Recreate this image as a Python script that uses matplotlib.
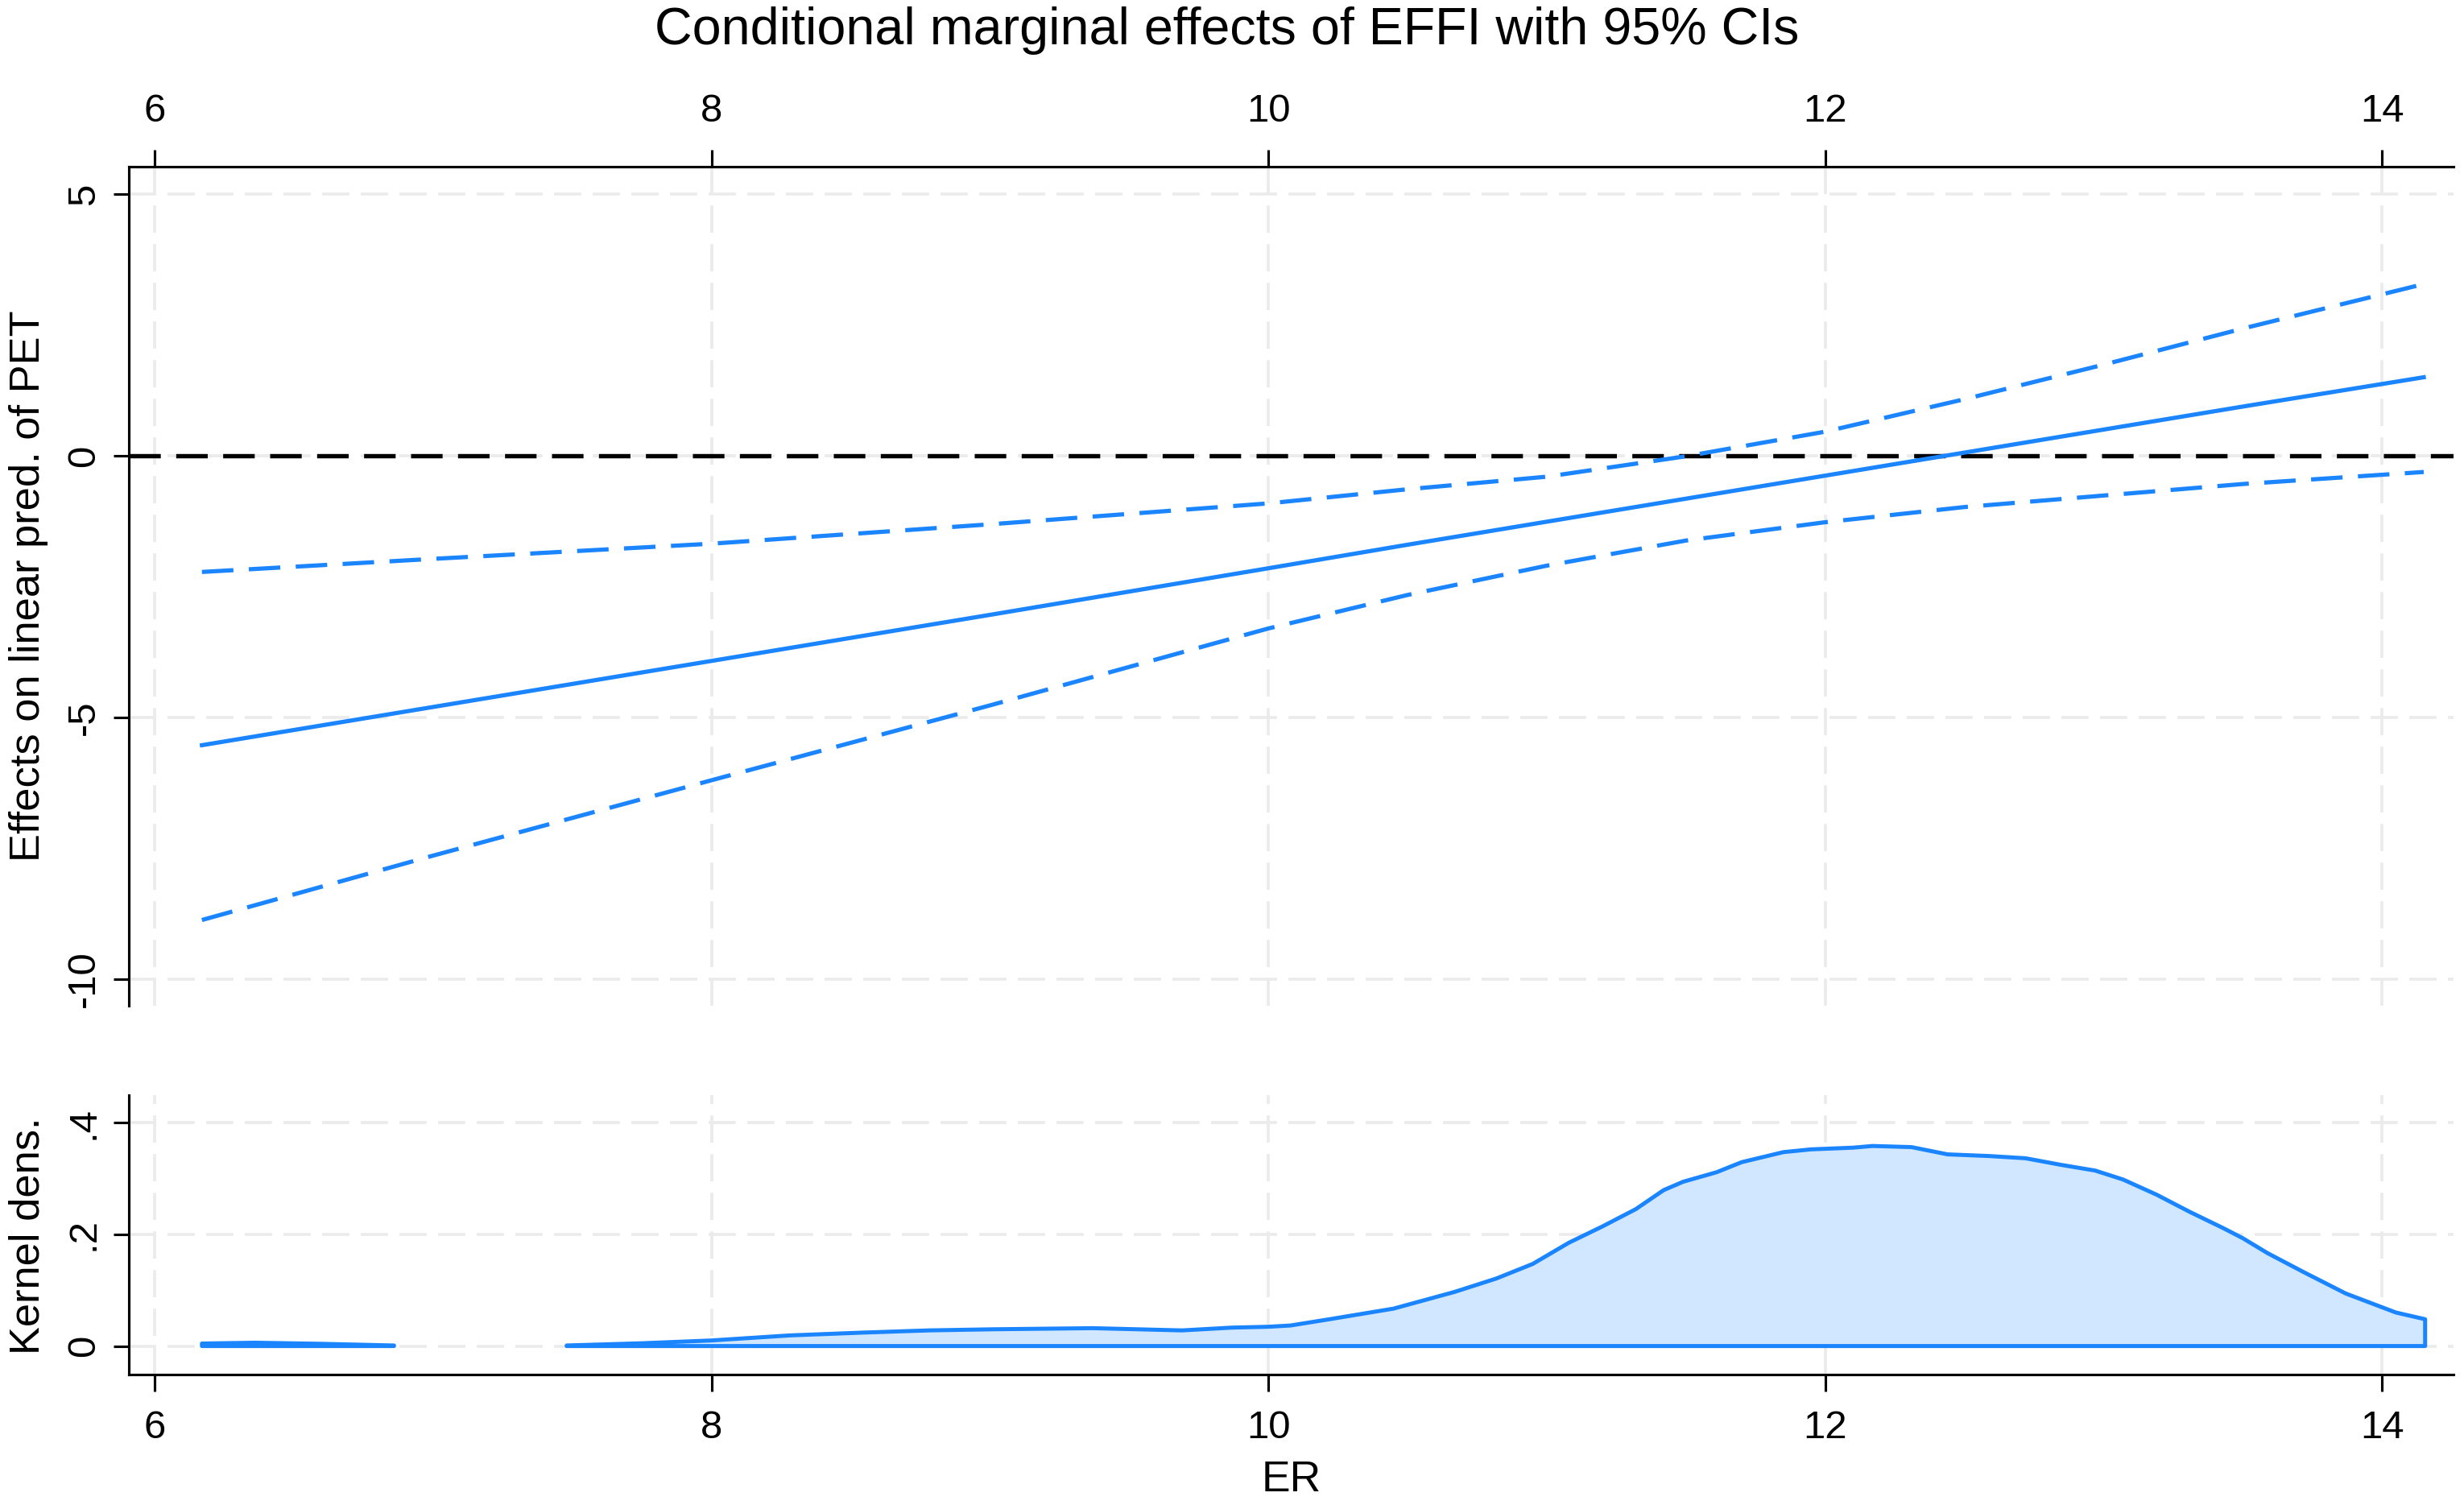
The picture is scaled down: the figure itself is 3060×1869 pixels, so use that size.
import matplotlib
matplotlib.use("Agg")
import matplotlib.pyplot as plt
import numpy as np

# ---------------- data ----------------
er = [6.17, 7.0, 8.0, 9.0, 10.0, 10.5, 11.0, 11.5, 12.0, 12.5, 13.0, 13.5, 14.15]
effect = [-5.53, -4.80, -3.92, -3.04, -2.15, -1.70, -1.26, -0.82, -0.38, 0.06, 0.50, 0.94, 1.50]
ci_upper = [-2.22, -1.97, -1.68, -1.31, -0.91, -0.64, -0.40, -0.01, 0.46, 1.08, 1.74, 2.43, 3.28]
ci_lower = [-8.87, -7.64, -6.20, -4.77, -3.30, -2.66, -2.10, -1.62, -1.27, -0.98, -0.76, -0.54, -0.31]

dens_x = [6.17, 6.36, 6.60, 6.86, np.nan, 7.48, 7.75, 8.00, 8.28, 8.54, 8.78, 9.01, 9.37,
          9.69, 9.87, 10.00, 10.08, 10.22, 10.45, 10.67, 10.82, 10.95, 11.08, 11.20, 11.32,
          11.42, 11.49, 11.61, 11.70, 11.85, 11.95, 12.10, 12.17, 12.31, 12.44, 12.59,
          12.72, 12.85, 12.97, 13.07, 13.19, 13.31, 13.43, 13.50, 13.59, 13.72, 13.87,
          14.05, 14.155]
dens_y = [0.0045, 0.006, 0.004, 0.001, np.nan, 0.001, 0.005, 0.010, 0.019, 0.024, 0.028,
          0.030, 0.032, 0.028, 0.033, 0.0345, 0.0368, 0.048, 0.067, 0.097, 0.121, 0.147,
          0.185, 0.214, 0.245, 0.279, 0.294, 0.311, 0.329, 0.347, 0.352, 0.355, 0.358,
          0.356, 0.343, 0.340, 0.336, 0.324, 0.314, 0.298, 0.271, 0.240, 0.211, 0.193,
          0.166, 0.132, 0.094, 0.060, 0.048]

x_ticks = [6, 8, 10, 12, 14]
x_ticklabels = ["6", "8", "10", "12", "14"]
top_yticks = [-10, -5, 0, 5]
top_yticklabels = ["-10", "-5", "0", "5"]
bot_yticks = [0, 0.2, 0.4]
bot_yticklabels = ["0", ".2", ".4"]

title = "Conditional marginal effects of EFFI with 95% CIs"
top_ylabel = "Effects on linear pred. of PET"
bot_ylabel = "Kernel dens."
xlabel = "ER"

# ---------------- style ----------------
BLUE = "#1a85ff"
FILL = "#d1e7ff"
GRID = "#ebebeb"
FONT = ["Liberation Sans", "DejaVu Sans"]
plt.rcParams["font.family"] = FONT

W, H = 3060, 1869
fig = plt.figure(figsize=(W / 300, H / 300), dpi=300)


def fx(px):
    return px / W


def fy(py):
    return 1 - py / H


L, R = 160, 3047
ax1 = fig.add_axes([fx(L), fy(1249), fx(R) - fx(L), fy(207) - fy(1249)])
ax2 = fig.add_axes([fx(L), fy(1707), fx(R) - fx(L), fy(1360) - fy(1707)])

xlim = (5.9075, 14.257)
LW = 1.25
DASH_PT = (9.4, 4.6)

for ax in (ax1, ax2):
    ax.set_xlim(*xlim)
    ax.set_axisbelow(True)
    ax.grid(True, color=GRID, linewidth=0.9, linestyle=(0, (9, 3.8)))
    ax.spines["right"].set_visible(False)
    for s in ax.spines.values():
        s.set_linewidth(0.75)
    ax.set_xticks(x_ticks)
    ax.tick_params(axis="both", direction="out", width=0.75, color="black")

# ---- top panel ----
ax1.set_ylim(-10.508, 5.523)
ax1.spines["bottom"].set_visible(False)
ax1.xaxis.tick_top()
ax1.set_xticklabels(x_ticklabels, fontsize=11.8)
ax1.tick_params(axis="x", length=5, pad=6)
ax1.set_yticks(top_yticks)
ax1.set_yticklabels(top_yticklabels, rotation=90, va="center", ha="right", fontsize=11.8)
ax1.tick_params(axis="y", length=4.6, pad=3.4)

ax1.axhline(0, color="black", linewidth=1.3,
            dashes=(DASH_PT[0] / 1.3, DASH_PT[1] / 1.3), zorder=2)
ax1.plot(er, effect, color=BLUE, linewidth=LW, zorder=3)
ax1.plot(er, ci_upper, color=BLUE, linewidth=LW,
         dashes=(DASH_PT[0] / LW, DASH_PT[1] / LW), zorder=3)
ax1.plot(er, ci_lower, color=BLUE, linewidth=LW,
         dashes=(DASH_PT[0] / LW, DASH_PT[1] / LW), zorder=3)

# ---- bottom panel ----
ax2.set_ylim(-0.051, 0.449)
ax2.spines["top"].set_visible(False)
ax2.set_xticklabels(x_ticklabels, fontsize=11.8)
ax2.tick_params(axis="x", length=5, pad=5.5)
ax2.set_yticks(bot_yticks)
ax2.set_yticklabels(bot_yticklabels, rotation=90, va="center", ha="right", fontsize=11.8)
ax2.tick_params(axis="y", length=4.6, pad=3.4)

ax2.fill_between(dens_x, 0, dens_y, facecolor=FILL, edgecolor=BLUE,
                 linewidth=1.2, zorder=3)

# ---- texts ----
fig.text(0.498, fy(38), title, ha="center", va="center", fontsize=15.5)
fig.text(fx(36), fy(728), top_ylabel, rotation=90, ha="center", va="center", fontsize=12.6)
fig.text(fx(35), fy(1535), bot_ylabel, rotation=90, ha="center", va="center", fontsize=12.6)
fig.text(fx(1604), fy(1838), xlabel, ha="center", va="center", fontsize=12.8)

fig.savefig("out.png", dpi=300, facecolor="white")
